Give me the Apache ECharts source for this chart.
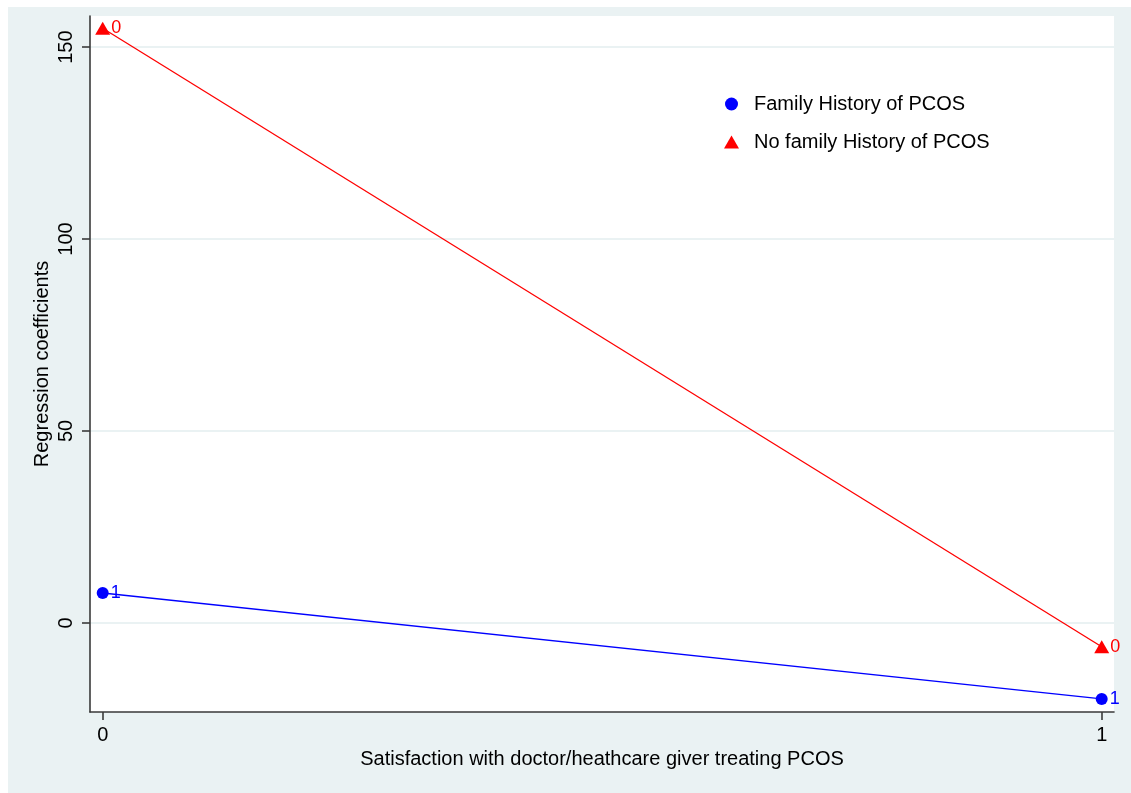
<!DOCTYPE html>
<html>
<head>
<meta charset="utf-8">
<script src="https://cdn.jsdelivr.net/npm/echarts@6/dist/echarts.min.js"></script>
<style>
  html, body { margin: 0; padding: 0; background: #ffffff; }
  #chart { width: 1131px; height: 793px; }
</style>
</head>
<body>
<div id="chart"></div>
<script>
// Satisfaction levels on the x axis
const xValues = [0, 1];
// Regression coefficients per group
const familyHistory = [7.8, -19.8];
const noFamilyHistory = [154.9, -6.2];
// Marker tags (value of the family-history indicator)
const familyTags = ['1', '1'];
const noFamilyTags = ['0', '0'];
// Axis ticks
const xTicks = [0, 1];
const yTicks = [0, 50, 100, 150];

const seriesNames = ['Family History of PCOS', 'No family History of PCOS'];

const font = '"Liberation Sans", Arial, Helvetica, sans-serif';

function pairs(xs, ys) {
  return xs.map((x, i) => [x, ys[i]]);
}

const chart = echarts.init(document.getElementById('chart'), null, { renderer: 'canvas' });

chart.setOption({
  backgroundColor: '#ffffff',
  animation: false,
  textStyle: { fontFamily: font },
  graphic: [{
    type: 'rect',
    z: -10,
    silent: true,
    shape: { x: 8, y: 7, width: 1131 - 8, height: 793 - 7 },
    style: { fill: '#eaf2f3' }
  }],
  grid: {
    left: 90, top: 16, right: 17, bottom: 81,
    show: true,
    backgroundColor: '#ffffff',
    borderWidth: 0
  },
  legend: {
    orient: 'vertical',
    left: 719,
    top: 88,
    itemWidth: 15,
    itemHeight: 13,
    itemGap: 16,
    data: [
      { name: seriesNames[0], icon: 'circle' },
      { name: seriesNames[1], icon: 'triangle' }
    ],
    textStyle: {
      fontSize: 20,
      lineHeight: 22,
      color: '#000000',
      fontFamily: font,
      padding: [0, 0, 0, 10]
    }
  },
  xAxis: {
    type: 'value',
    min: -0.0127,
    max: 1.0123,
    name: 'Satisfaction with doctor/heathcare giver treating PCOS',
    nameLocation: 'middle',
    nameGap: 34,
    nameTextStyle: { fontSize: 20, color: '#000000', fontFamily: font },
    axisLine: { show: true, onZero: false, lineStyle: { color: '#3a3a3a', width: 1.6 } },
    axisTick: { show: true, length: 8, customValues: xTicks, lineStyle: { color: '#3a3a3a', width: 1.6 } },
    axisLabel: {
      customValues: xTicks,
      margin: 13,
      fontSize: 20,
      color: '#000000',
      fontFamily: font
    },
    splitLine: { show: false }
  },
  yAxis: {
    type: 'value',
    min: -23.2,
    max: 158.1,
    name: 'Regression coefficients',
    nameLocation: 'middle',
    nameGap: 38,
    nameRotate: 90,
    nameMoveOverlap: false,
    nameTextStyle: { fontSize: 20, color: '#000000', fontFamily: font },
    axisLine: { show: true, onZero: false, lineStyle: { color: '#3a3a3a', width: 1.6 } },
    axisTick: { show: true, length: 8, customValues: yTicks, lineStyle: { color: '#3a3a3a', width: 1.6 } },
    axisLabel: {
      customValues: yTicks,
      rotate: 90,
      margin: 14,
      fontSize: 20,
      color: '#000000',
      fontFamily: font
    },
    splitLine: { show: true, lineStyle: { color: '#eaf2f3', width: 2 } }
  },
  series: [
    {
      name: seriesNames[0],
      type: 'line',
      data: pairs(xValues, familyHistory),
      symbol: 'circle',
      symbolSize: 12,
      color: '#0000ff',
      lineStyle: { color: '#0000ff', width: 1.3 },
      itemStyle: { color: '#0000ff' },
      label: {
        show: true,
        position: 'right',
        distance: 2,
        fontSize: 18,
        color: '#0000ff',
        fontFamily: font,
        formatter: p => familyTags[p.dataIndex]
      },
      z: 3
    },
    {
      name: seriesNames[1],
      type: 'line',
      data: pairs(xValues, noFamilyHistory),
      symbol: 'triangle',
      symbolSize: [15, 13],
      color: '#ff0000',
      lineStyle: { color: '#ff0000', width: 1.3 },
      itemStyle: { color: '#ff0000' },
      label: {
        show: true,
        position: 'right',
        distance: 1,
        fontSize: 18,
        color: '#ff0000',
        fontFamily: font,
        formatter: p => noFamilyTags[p.dataIndex]
      },
      z: 3
    }
  ]
});
</script>
</body>
</html>
